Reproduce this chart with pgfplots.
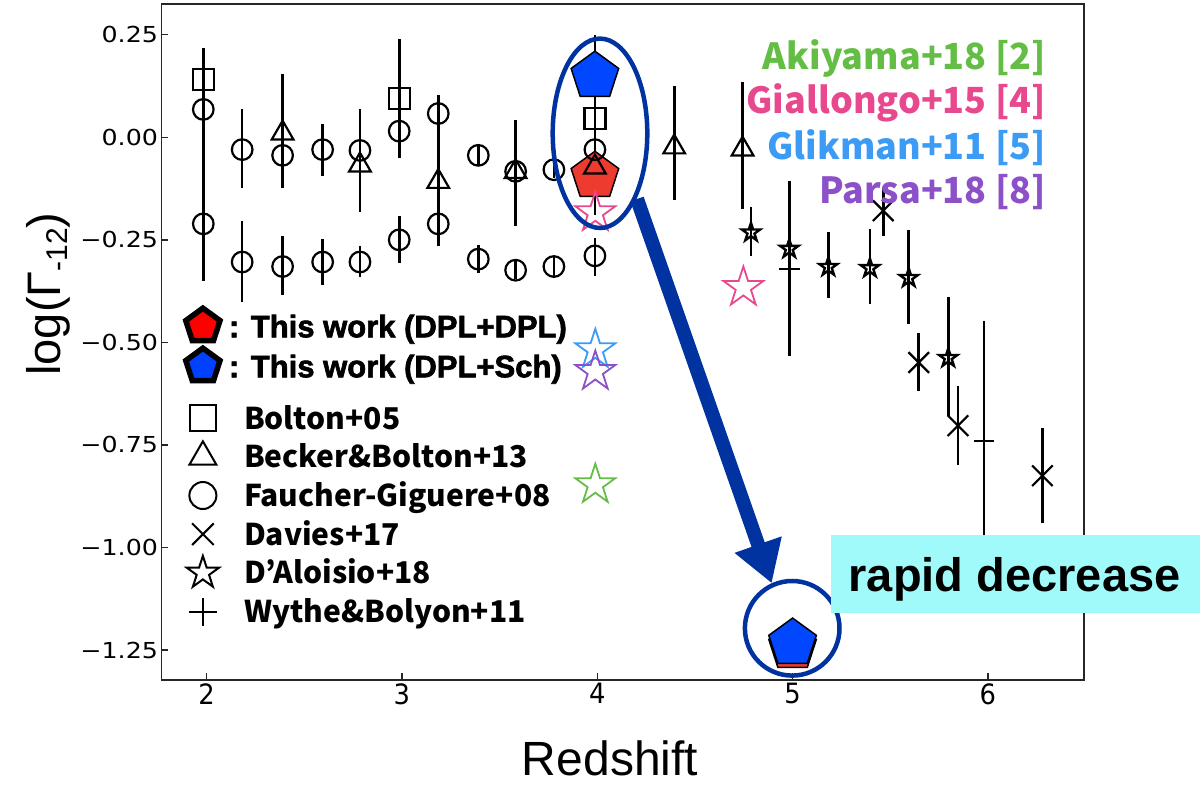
\documentclass[border=0pt]{standalone}
\usepackage{fontspec}
\setmainfont{Liberation Sans}
\newfontfamily\libb{Liberation Sans}[UprightFont={* Bold}, FakeBold=2]
\newfontfamily\dejavuy{DejaVu Sans}[FakeStretch=1.15]
\newfontfamily\dejavux{DejaVu Sans}[FakeStretch=0.92]
\newfontfamily\jp{Noto Sans CJK JP}
\usepackage{pgfplots}
\usepackage{pgfplotstable}
\pgfplotsset{compat=1.18}
\usetikzlibrary{arrows.meta}

\definecolor{pentred}{HTML}{EE3B2F}
\definecolor{pentblue}{HTML}{0047FF}
\definecolor{legred}{HTML}{FF0000}
\definecolor{legblue}{HTML}{0040FF}
\definecolor{akigreen}{HTML}{64BE46}
\definecolor{gialpink}{HTML}{E8488E}
\definecolor{glikblue}{HTML}{3C9BF5}
\definecolor{parspurple}{HTML}{8C50C8}
\definecolor{annoblue}{HTML}{0033A0}
\definecolor{boxcyan}{HTML}{A0FAFA}

% marks, sized by radius
\pgfdeclareplotmark{mpent}{%
  \pgfpathmoveto{\pgfqpointpolar{90}{\pgfplotmarksize}}%
  \pgfpathlineto{\pgfqpointpolar{162}{\pgfplotmarksize}}%
  \pgfpathlineto{\pgfqpointpolar{234}{\pgfplotmarksize}}%
  \pgfpathlineto{\pgfqpointpolar{306}{\pgfplotmarksize}}%
  \pgfpathlineto{\pgfqpointpolar{18}{\pgfplotmarksize}}%
  \pgfpathclose\pgfusepathqfillstroke}
\pgfdeclareplotmark{mstar}{%
  \pgfpathmoveto{\pgfqpointpolar{90}{\pgfplotmarksize}}%
  \pgfpathlineto{\pgfqpointpolar{126}{0.382\pgfplotmarksize}}%
  \pgfpathlineto{\pgfqpointpolar{162}{\pgfplotmarksize}}%
  \pgfpathlineto{\pgfqpointpolar{198}{0.382\pgfplotmarksize}}%
  \pgfpathlineto{\pgfqpointpolar{234}{\pgfplotmarksize}}%
  \pgfpathlineto{\pgfqpointpolar{270}{0.382\pgfplotmarksize}}%
  \pgfpathlineto{\pgfqpointpolar{306}{\pgfplotmarksize}}%
  \pgfpathlineto{\pgfqpointpolar{342}{0.382\pgfplotmarksize}}%
  \pgfpathlineto{\pgfqpointpolar{18}{\pgfplotmarksize}}%
  \pgfpathlineto{\pgfqpointpolar{54}{0.382\pgfplotmarksize}}%
  \pgfpathclose\pgfusepathqstroke}
\pgfdeclareplotmark{mtri}{%
  \pgfpathmoveto{\pgfqpointpolar{90}{\pgfplotmarksize}}%
  \pgfpathlineto{\pgfqpointpolar{210}{\pgfplotmarksize}}%
  \pgfpathlineto{\pgfqpointpolar{330}{\pgfplotmarksize}}%
  \pgfpathclose\pgfusepathqstroke}
\pgfdeclareplotmark{msq}{%
  \pgfpathrectangle{\pgfqpoint{-\pgfplotmarksize}{-\pgfplotmarksize}}{\pgfqpoint{2\pgfplotmarksize}{2\pgfplotmarksize}}%
  \pgfusepathqstroke}
\pgfdeclareplotmark{mcirc}{%
  \pgfpathcircle{\pgfpointorigin}{\pgfplotmarksize}\pgfusepathqstroke}
\pgfdeclareplotmark{mx}{%
  \pgfpathmoveto{\pgfqpoint{-\pgfplotmarksize}{-\pgfplotmarksize}}%
  \pgfpathlineto{\pgfqpoint{\pgfplotmarksize}{\pgfplotmarksize}}%
  \pgfpathmoveto{\pgfqpoint{-\pgfplotmarksize}{\pgfplotmarksize}}%
  \pgfpathlineto{\pgfqpoint{\pgfplotmarksize}{-\pgfplotmarksize}}%
  \pgfusepathqstroke}
\pgfdeclareplotmark{mplus}{%
  \pgfpathmoveto{\pgfqpoint{-\pgfplotmarksize}{0pt}}%
  \pgfpathlineto{\pgfqpoint{\pgfplotmarksize}{0pt}}%
  \pgfpathmoveto{\pgfqpoint{0pt}{-\pgfplotmarksize}}%
  \pgfpathlineto{\pgfqpoint{0pt}{\pgfplotmarksize}}%
  \pgfusepathqstroke}

\pgfplotsset{
  legend image code/.code={\draw[#1] plot coordinates {(0pt,0pt)};},
  ebar/.style={error bars/.cd, y dir=both, y explicit, error mark=none,
    error bar style={line width=2.6pt, black}},
}
\newcommand\legfont{\libb\fontsize{31pt}{31pt}\selectfont}
\newcommand\jpfont{\jp\bfseries\fontsize{30pt}{30pt}\selectfont}

% z  logGamma  err+  err-
\pgfplotstableread{
x y ep em
1.983 0.141 0.077 0.492
2.986 0.094 0.146 0.144
3.988 0.046 0.204 0.235
}\bolton
\pgfplotstableread{
x y ep em
2.389 0.010 0.145 0.133
2.785 -0.068 0.138 0.114
3.186 -0.108 0.210 0.077
3.582 -0.084 0.127 0.133
3.988 -0.073 0.100 0.100
4.394 -0.024 0.150 0.128
4.744 -0.029 0.163 0.145
}\becker
\pgfplotstableread{
x y ep em
1.983 0.068 0.05 0.05
2.182 -0.030 0.099 0.093
2.389 -0.044 0.05 0.05
2.594 -0.030 0.063 0.065
2.785 -0.032 0.05 0.05
2.986 0.015 0.05 0.05
3.186 0.058 0.044 0.05
3.391 -0.044 0.024 0.024
3.582 -0.083 0.05 0.05
3.778 -0.079 0.02 0.02
3.988 -0.030 0.05 0.05
1.983 -0.211 0.05 0.05
2.182 -0.304 0.101 0.098
2.389 -0.315 0.074 0.069
2.594 -0.304 0.056 0.055
2.785 -0.304 0.040 0.037
2.986 -0.250 0.057 0.057
3.186 -0.211 0.050 0.055
3.391 -0.297 0.034 0.034
3.582 -0.324 0.022 0.022
3.778 -0.315 0.022 0.022
3.988 -0.289 0.044 0.048
}\faucher
\pgfplotstableread{
x y ep em
5.464 -0.179 0.055 0.061
5.646 -0.549 0.072 0.070
5.847 -0.703 0.096 0.095
6.279 -0.825 0.116 0.115
}\davies
\pgfplotstableread{
x y ep em
4.787 -0.232 0.061 0.057
4.983 -0.272 0.070 0.070
5.183 -0.316 0.084 0.076
5.396 -0.319 0.095 0.087
5.595 -0.343 0.118 0.111
5.797 -0.538 0.148 0.142
}\daloisio
\pgfplotstableread{
x y ep em
4.983 -0.321 0.214 0.213
5.981 -0.740 0.293 0.310
}\wyithe

\begin{document}
\begin{tikzpicture}
\path[use as bounding box] (-161.5pt,-106pt) rectangle (1041.5pt,680pt);
\begin{axis}[
  at={(0pt,0pt)}, anchor=south west,
  scale only axis, width=922.5pt, height=676pt,
  xmin=1.769, xmax=6.492, ymin=-1.323, ymax=0.325,
  axis line style={line width=1.5pt, black!85},
  tick pos=left, tick align=inside, major tick length=7pt,
  tick style={line width=1.3pt, black!85},
  xtick={2,3,4,5,6}, xticklabels={2,3,4,5,6},
  ytick={-1.25,-1,-0.75,-0.5,-0.25,0,0.25},
  yticklabels={−1.25,−1.00,−0.75,−0.50,−0.25,0.00,0.25},
  xticklabel style={font=\dejavux\fontsize{28pt}{28pt}\selectfont},
  yticklabel style={font=\dejavuy\fontsize{22pt}{22pt}\selectfont},
  xlabel={Redshift},
  ylabel={log(Γ\raisebox{-7pt}{\fontsize{30pt}{30pt}\selectfont -12})},
  xlabel style={at={(axis description cs:0.4862,-0.142)}, anchor=base,
    inner sep=0pt, font=\fontsize{48pt}{48pt}\selectfont},
  ylabel style={at={(axis description cs:-0.110,0.571)}, anchor=base,
    inner sep=0pt, font=\fontsize{47pt}{47pt}\selectfont},
  legend cell align=left,
  legend style={at={(rel axis cs:0.0261,0.5533)}, anchor=north west,
    draw=none, fill=none, inner xsep=0pt, inner ysep=0pt,
    row sep=0pt, column sep=9pt, nodes={inner sep=0pt},
    cells={anchor=west}},
]
% this work
\addplot[only marks, mark=mpent, mark size=25pt, forget plot,
  mark options={fill=pentred, draw=black, line width=1.5pt}]
  coordinates {(3.988,-0.095) (5.0,-1.243)};
\addplot[only marks, mark=mpent, mark size=25pt, forget plot,
  mark options={fill=pentblue, draw=black, line width=1.5pt}]
  coordinates {(3.988,0.149) (5.0,-1.233)};

% literature
\addplot[only marks, black, mark=msq, mark size=10.5pt, forget plot,
  mark options={line width=2.2pt}, ebar]
  table[x=x, y=y, y error plus=ep, y error minus=em] {\bolton};
\addplot[only marks, black, mark=mtri, mark size=12.5pt, forget plot,
  mark options={line width=2.2pt}, ebar]
  table[x=x, y=y, y error plus=ep, y error minus=em] {\becker};
\addplot[only marks, black, mark=mcirc, mark size=10.3pt, forget plot,
  mark options={line width=2.2pt}, ebar]
  table[x=x, y=y, y error plus=ep, y error minus=em] {\faucher};
\addplot[only marks, black, mark=mx, mark size=10.3pt, forget plot,
  mark options={line width=2.2pt}, ebar]
  table[x=x, y=y, y error plus=ep, y error minus=em] {\davies};
\addplot[only marks, black, mark=mstar, mark size=9.6pt, forget plot,
  mark options={line width=2.4pt}, ebar]
  table[x=x, y=y, y error plus=ep, y error minus=em] {\daloisio};
\addplot[only marks, black, mark=mplus, mark size=10.3pt, forget plot,
  mark options={line width=2.4pt}, ebar]
  table[x=x, y=y, y error plus=ep, y error minus=em] {\wyithe};

% coloured points
\addplot[only marks, mark=mstar, mark size=21pt, forget plot,
  mark options={draw=akigreen, line width=1.8pt}]
  coordinates {(3.99,-0.847)};
\addplot[only marks, mark=mstar, mark size=21pt, forget plot,
  mark options={draw=gialpink, line width=1.8pt}]
  coordinates {(3.99,-0.184) (4.748,-0.366)};
\addplot[only marks, mark=mstar, mark size=21pt, forget plot,
  mark options={draw=glikblue, line width=1.8pt}]
  coordinates {(3.99,-0.518)};
\addplot[only marks, mark=mstar, mark size=21pt, forget plot,
  mark options={draw=parspurple, line width=1.8pt}]
  coordinates {(3.99,-0.571)};

% legend
\addlegendimage{only marks, mark=mpent, mark size=18pt,
  mark options={fill=legred, draw=black, line width=5.5pt}}
\addlegendentry[text height=31.1pt, text depth=8.9pt]{\legfont : This work (DPL+DPL)}
\addlegendimage{only marks, mark=mpent, mark size=18pt,
  mark options={fill=legblue, draw=black, line width=5.5pt}}
\addlegendentry[text height=31.1pt, text depth=8.9pt]{\legfont : This work (DPL+Sch)}
\addlegendimage{empty legend}
\addlegendentry[text height=12.6pt, text depth=0pt]{}
\addlegendimage{only marks, black, mark=msq, mark size=13pt, mark options={line width=2pt}}
\addlegendentry[text height=30.35pt, text depth=8.35pt]{\jpfont\hspace*{15pt}Bolton+05}
\addlegendimage{only marks, black, mark=mtri, mark size=15.5pt, mark options={line width=2pt}}
\addlegendentry[text height=30.35pt, text depth=8.35pt]{\jpfont\hspace*{15pt}Becker\&Bolton+13}
\addlegendimage{only marks, black, mark=mcirc, mark size=13.5pt, mark options={line width=2pt}}
\addlegendentry[text height=30.35pt, text depth=8.35pt]{\jpfont\hspace*{15pt}Faucher-Giguere+08}
\addlegendimage{only marks, black, mark=mx, mark size=10.8pt, mark options={line width=2pt}}
\addlegendentry[text height=30.35pt, text depth=8.35pt]{\jpfont\hspace*{15pt}Davies+17}
\addlegendimage{only marks, black, mark=mstar, mark size=17pt, mark options={line width=2pt}}
\addlegendentry[text height=30.35pt, text depth=8.35pt]{\jpfont\hspace*{15pt}D’Aloisio+18}
\addlegendimage{only marks, black, mark=mplus, mark size=14pt, mark options={line width=2pt}}
\addlegendentry[text height=30.35pt, text depth=8.35pt]{\jpfont\hspace*{15pt}Wythe\&Bolyon+11}
\end{axis}

% annotations (1pt = 1px, origin at axis south west)
\draw[annoblue, line width=4.5pt] (438.5pt,546.7pt) ellipse [x radius=47.3pt, y radius=94.7pt];
\draw[annoblue, line width=4.5pt] (630.7pt,51.7pt) circle [radius=47.3pt];
\draw[annoblue, line width=14pt, -{Triangle[length=41pt, width=47pt]}]
  (475.5pt,481pt) -- (610.2pt,96.7pt);
\fill[boxcyan] (669.5pt,67.3pt) rectangle (1038.5pt,145pt);
\node[anchor=base west, inner sep=0pt, font=\bfseries\fontsize{47pt}{47pt}\selectfont]
  at (687pt,88.3pt) {rapid decrease};
\begin{scope}[every node/.style={anchor=base east, inner sep=0pt,
    font=\jp\bfseries\fontsize{36pt}{36pt}\selectfont}]
\node[text=akigreen] at (884.5pt,610pt) {Akiyama+18 [2]};
\node[text=gialpink] at (884.5pt,566.7pt) {Giallongo+15 [4]};
\node[text=glikblue] at (884.5pt,520.7pt) {Glikman+11 [5]};
\node[text=parspurple] at (884.5pt,476.7pt) {Parsa+18 [8]};
\end{scope}
\end{tikzpicture}
\end{document}
